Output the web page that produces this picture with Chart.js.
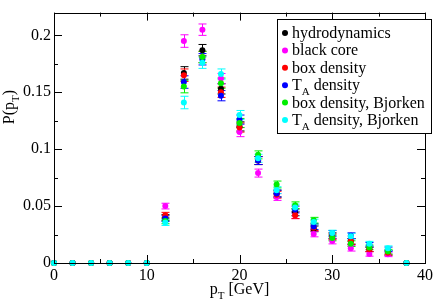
<!DOCTYPE html>
<html>
<head>
<meta charset="utf-8">
<script src="https://cdn.jsdelivr.net/npm/chart.js@4/dist/chart.umd.min.js"></script>
<style>
  html, body { margin: 0; padding: 0; background: #fff; }
</style>
</head>
<body>
<canvas id="chart" width="436" height="301"></canvas>
<script>
// pT bins [GeV]
var pT = [0, 2, 4, 6, 8, 10, 12, 14, 16, 18, 20, 22, 24, 26, 28, 30, 32, 34, 36, 38];

var hydro      = [0, 0, 0, 0, 0, 0, 0.040, 0.167, 0.187, 0.153, 0.120, 0.090, 0.061, 0.0445, 0.030, 0.024, 0.019, 0.012, 0.009, 0];
var blackCore  = [0, 0, 0, 0, 0, 0, 0.050, 0.195, 0.205, 0.162, 0.115, 0.079, 0.058, 0.042, 0.0255, 0.0193, 0.013, 0.008, 0.0076, 0];
var boxDens    = [0, 0, 0, 0, 0, 0, 0.042, 0.165, 0.181, 0.150, 0.119, 0.090, 0.060, 0.042, 0.031, 0.023, 0.019, 0.012, 0.009, 0];
var taDens     = [0, 0, 0, 0, 0, 0, 0.039, 0.159, 0.179, 0.147, 0.126, 0.090, 0.061, 0.047, 0.032, 0.026, 0.024, 0.016, 0.012, 0];
var boxBjorken = [0, 0, 0, 0, 0, 0, 0.037, 0.155, 0.181, 0.158, 0.123, 0.095, 0.069, 0.0507, 0.0376, 0.022, 0.017, 0.0137, 0.010, 0];
var taBjorken  = [0, 0, 0, 0, 0, 0, 0.0355, 0.141, 0.176, 0.166, 0.130, 0.092, 0.064, 0.0487, 0.036, 0.0263, 0.0235, 0.017, 0.013, 0];

// statistical errors (roughly the same for all runs)
var errors = [0, 0, 0, 0, 0, 0, 0.0025, 0.0055, 0.005, 0.0045, 0.004, 0.0035, 0.003, 0.003, 0.0025, 0.0025, 0.0025, 0.002, 0.002, 0];

var seriesNames = ['hydrodynamics', 'black core', 'box density', 'T_A density', 'box density, Bjorken', 'T_A density, Bjorken'];
var seriesColors = ['#000000', '#ff00ff', '#ff0000', '#0000ff', '#00ee00', '#00ffff'];
var seriesValues = [hydro, blackCore, boxDens, taDens, boxBjorken, taBjorken];

var xMajor = [0, 10, 20, 30, 40];
var xMinor = [5, 15, 25, 35];
var yMajor = [0, 0.05, 0.1, 0.15, 0.2];
var yMinor = [0.025, 0.075, 0.125, 0.175];
var yTickLabels = ['0', '0.05', '0.1', '0.15', '0.2'];
var xTickLabels = ['0', '10', '20', '30', '40'];

var FONT = '"Liberation Serif", "Times New Roman", serif';

// draws text where "_X" means subscript X
function drawRich(ctx, text, x, y, size, align) {
    var parts = [];
    for (var i = 0; i < text.length; i++) {
        if (text[i] === '_' && i + 1 < text.length) {
            parts.push({ t: text[i + 1], sub: true });
            i++;
        } else if (parts.length && !parts[parts.length - 1].sub) {
            parts[parts.length - 1].t += text[i];
        } else {
            parts.push({ t: text[i], sub: false });
        }
    }
    var w = 0;
    parts.forEach(function (p) {
        p.size = p.sub ? Math.round(size * 0.7) : size;
        ctx.font = p.size + 'px ' + FONT;
        p.w = ctx.measureText(p.t).width;
        w += p.w;
    });
    var cx = align === 'center' ? x - w / 2 : x;
    ctx.textAlign = 'left';
    ctx.textBaseline = 'alphabetic';
    parts.forEach(function (p) {
        ctx.font = p.size + 'px ' + FONT;
        ctx.fillText(p.t, cx, p.sub ? y + size * 0.3 : y);
        cx += p.w;
    });
}

var decorPlugin = {
    id: 'decor',
    beforeDatasetsDraw: function (chart) {
        var ctx = chart.ctx, xs = chart.scales.x, ys = chart.scales.y;
        ctx.save();
        ctx.lineWidth = 1;
        seriesValues.forEach(function (vals, s) {
            ctx.strokeStyle = seriesColors[s];
            vals.forEach(function (v, i) {
                var e = errors[i];
                if (!e) return;
                var px = Math.round(xs.getPixelForValue(pT[i])) + 0.5;
                var y1 = ys.getPixelForValue(v - e), y2 = ys.getPixelForValue(v + e);
                ctx.beginPath();
                ctx.moveTo(px, y1); ctx.lineTo(px, y2);
                ctx.moveTo(px - 4, y1); ctx.lineTo(px + 4, y1);
                ctx.moveTo(px - 4, y2); ctx.lineTo(px + 4, y2);
                ctx.stroke();
            });
        });
        ctx.restore();
    },
    afterDraw: function (chart) {
        var ctx = chart.ctx, xs = chart.scales.x, ys = chart.scales.y;
        var a = chart.chartArea;
        ctx.save();
        ctx.strokeStyle = '#000';
        ctx.lineWidth = 1;
        ctx.strokeRect(Math.round(a.left) + 0.5, Math.round(a.top) + 0.5,
            Math.round(a.right - a.left), Math.round(a.bottom - a.top));

        ctx.beginPath();
        function xt(list, len) {
            list.forEach(function (v) {
                var px = Math.round(xs.getPixelForValue(v)) + 0.5;
                ctx.moveTo(px, a.bottom); ctx.lineTo(px, a.bottom - len);
                ctx.moveTo(px, a.top); ctx.lineTo(px, a.top + len);
            });
        }
        function yt(list, len) {
            list.forEach(function (v) {
                var py = Math.round(ys.getPixelForValue(v)) + 0.5;
                ctx.moveTo(a.left, py); ctx.lineTo(a.left + len, py);
                ctx.moveTo(a.right, py); ctx.lineTo(a.right - len, py);
            });
        }
        xt(xMajor, 8); xt(xMinor, 4);
        yt(yMajor, 8); yt(yMinor, 4);
        ctx.stroke();

        // axis titles
        ctx.fillStyle = '#000';
        drawRich(ctx, 'p_T [GeV]', (a.left + a.right) / 2, 294, 16, 'center');
        ctx.save();
        ctx.translate(14, 107);
        ctx.rotate(-Math.PI / 2);
        drawRich(ctx, 'P(p_T)', 0, 0, 16, 'center');
        ctx.restore();

        // legend
        var lx = 277, ly = 19, lw = 154, lh = 114;
        ctx.fillStyle = '#fff';
        ctx.fillRect(lx, ly, lw, lh);
        ctx.strokeRect(lx + 0.5, ly + 0.5, lw, lh);
        seriesNames.forEach(function (name, s) {
            var cy = 33 + s * 17.4;
            ctx.fillStyle = seriesColors[s];
            ctx.beginPath();
            ctx.arc(lx + 8, cy, 3, 0, Math.PI * 2);
            ctx.fill();
            ctx.fillStyle = '#000';
            drawRich(ctx, name, lx + 15, cy + 5, 16, 'left');
        });
        ctx.restore();
    }
};

var datasets = seriesNames.map(function (name, s) {
    return {
        label: name,
        data: pT.map(function (x, i) { return { x: x, y: seriesValues[s][i] }; }),
        backgroundColor: seriesColors[s],
        borderColor: seriesColors[s],
        pointRadius: 3,
        pointBorderWidth: 0,
        pointHoverRadius: 3,
        showLine: false,
        clip: false,
        order: seriesNames.length - s
    };
});

new Chart(document.getElementById('chart'), {
    type: 'scatter',
    data: { datasets: datasets },
    options: {
        responsive: false,
        animation: false,
        events: [],
        layout: { padding: { left: 0, right: 9, top: 3, bottom: 0 } },
        plugins: { legend: { display: false }, tooltip: { enabled: false } },
        scales: {
            x: {
                min: 0, max: 40,
                grid: { display: false, drawTicks: false },
                border: { display: false },
                afterFit: function (scale) { scale.height = 38; },
                afterBuildTicks: function (scale) {
                    scale.ticks = xMajor.map(function (v) { return { value: v }; });
                },
                ticks: {
                    padding: 3,
                    color: '#000',
                    maxRotation: 0,
                    font: { family: FONT, size: 16 },
                    callback: function (v) { return xTickLabels[xMajor.indexOf(v)]; }
                }
            },
            y: {
                min: 0, max: 0.22,
                grid: { display: false, drawTicks: false },
                border: { display: false },
                afterFit: function (scale) { scale.width = 54; },
                afterBuildTicks: function (scale) {
                    scale.ticks = yMajor.map(function (v) { return { value: v }; });
                },
                ticks: {
                    padding: 3,
                    color: '#000',
                    font: { family: FONT, size: 16 },
                    callback: function (v) { return yTickLabels[yMajor.indexOf(v)]; }
                }
            }
        }
    },
    plugins: [decorPlugin]
});
</script>
</body>
</html>
